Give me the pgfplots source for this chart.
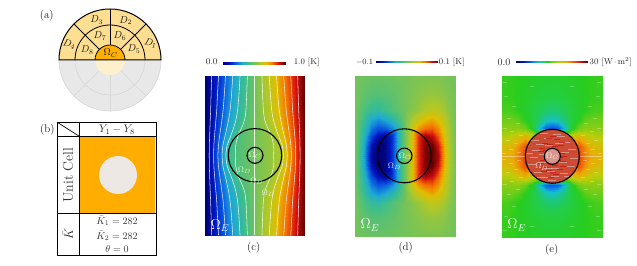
\documentclass[border=0pt]{standalone}
\usepackage{pgfplots}
\usepackage{pgfplotstable}
\pgfplotsset{compat=1.18,
 panel/.style={at={(0,0)},anchor=south west,scale only axis,width=637pt,height=265pt,
   xmin=0,xmax=637,ymin=0,ymax=265,hide axis},
 cmainmap/.style={colormap={cmain}{rgb255(0pt)=(0,0,110);rgb255(10pt)=(0,20,190);rgb255(20pt)=(10,90,225);rgb255(30pt)=(30,170,210);rgb255(40pt)=(60,190,140);rgb255(50pt)=(115,195,90);rgb255(60pt)=(175,200,40);rgb255(70pt)=(225,190,0);rgb255(80pt)=(245,110,0);rgb255(90pt)=(210,15,15);rgb255(100pt)=(100,0,0)}},
 cemap/.style={colormap={ce}{rgb255(0pt)=(0,0,110);rgb255(10pt)=(0,20,190);rgb255(20pt)=(10,100,230);rgb255(30pt)=(20,190,210);rgb255(40pt)=(35,205,70);rgb255(45pt)=(40,205,30);rgb255(50pt)=(110,205,25);rgb255(60pt)=(190,205,10);rgb255(70pt)=(235,170,5);rgb255(80pt)=(240,100,10);rgb255(90pt)=(210,20,20);rgb255(100pt)=(100,0,0)}}
}
% one quadrant of each field (offset from the centre of the panel)
\pgfplotstableread{
dx dy c d e
0 0 .5 0 24
6 0 .522 .03 24
13 0 .548 .072 24
20 0 .575 .095 24
26.7 0 .6 .1 25.5
33 0 .727 .088 22.8
39 0 .824 .048 21
44 0 .906 .022 20.6
49.65 0 1 0 20.6
0 10 .5 0 24
6 10 .522 .03 24
13 10 .548 .072 24
20 10 .575 .095 24
26.7 10 .63 .1 24.6
33 10 .738 .081 22
39 10 .829 .045 20
44 10 .908 .021 19.5
49.65 10 1 0 19.5
0 20 .5 0 18
6 20 .522 .03 18
13 20 .55 .072 18
20 20 .595 .09 18.6
26.7 20 .677 .084 20
33 20 .759 .064 19
39 20 .841 .038 18
44 20 .914 .018 17.5
49.65 20 1 0 17.5
0 28 .5 0 5.4
6 28 .529 .026 6
13 28 .571 .048 9
20 28 .633 .059 12.9
26.7 28 .702 .062 15
33 28 .776 .051 16
39 28 .851 .031 16
44 28 .919 .016 16
49.65 28 1 0 16
0 36 .5 0 9.3
6 36 .541 .016 9.8
13 36 .594 .031 11
20 36 .654 .041 12.3
26.7 36 .721 .047 13.6
33 36 .789 .04 14.6
39 36 .861 .026 15
44 36 .924 .013 15
49.65 36 1 0 15
0 46 .5 0 11.1
6 46 .548 .005 11.3
13 46 .607 .012 11.7
20 46 .67 .02 12.3
26.7 46 .736 .025 12.9
33 46 .802 .024 13.5
39 46 .87 .016 14
44 46 .928 .008 14.2
49.65 46 1 0 14.2
0 60 .5 0 12.2
6 60 .553 .003 12.3
13 60 .617 .007 12.5
20 60 .682 .01 12.8
26.7 60 .748 .012 13.1
33 60 .812 .011 13.4
39 60 .877 .008 13.7
44 60 .933 .004 13.8
49.65 60 1 0 13.8
0 79.65 .5 0 12.9
6 79.65 .558 .001 12.9
13 79.65 .627 .002 13.1
20 79.65 .695 .003 13.2
26.7 79.65 .762 .003 13.4
33 79.65 .825 .003 13.5
39 79.65 .887 .002 13.7
44 79.65 .939 .001 13.8
49.65 79.65 1 0 13.8
}\tabq
\pgfplotstableread{
dy k8 k9 k10 k11 k12 k13
0 19 28.8 32.6 36.8 41 45.4
10 19 27.6 31.8 36.2 40.8 45.3
20 16.5 23.8 29.5 35 40.1 45
28 13 21 27.7 33.8 39.4 44.7
36 10 18.7 26 32.7 38.7 44.4
46 8.7 17 24.5 31.5 37.9 44
60 8 15.8 23.2 30.4 37.2 43.6
79.65 7.3 14.6 21.9 29.1 36.1 43
}\iso
\pgfplotstableread{
x y
-20 -8
-14 -16
-6 -21
3 -20
12 -17
19 -10
22 -2
-23 3
-16 6
-18 -1
-10 -6
-9 2
-12 12
-4 18
5 22
14 14
20 7
13 4
11 -6
3 -12
-4 -12
-17 16
7 13
-3 11
16 -20
-11 -21
0 -24
-1 -15
9 20
-8 23
}\dashin
\pgfplotstableread{
x y
33 4
41 7
48 3
36 13
44 16
31 21
40 25
47 28
34 33
43 38
38 50
46 60
47 74
20 70
}\dashout
\newcommand\field[5]{%
 \addplot[surf,shader=interp,mesh/cols=9,point meta=explicit] table[x expr={#1+#3*\thisrow{dx}},y expr={#2+#3*\thisrow{dy}},meta expr={#4}]{\tabq};
 \addplot[surf,shader=interp,mesh/cols=9,point meta=explicit] table[x expr={#1+#3*\thisrow{dx}},y expr={#2-#3*\thisrow{dy}},meta expr={#4}]{\tabq};
 \addplot[surf,shader=interp,mesh/cols=9,point meta=explicit] table[x expr={#1-#3*\thisrow{dx}},y expr={#2+#3*\thisrow{dy}},meta expr={#5}]{\tabq};
 \addplot[surf,shader=interp,mesh/cols=9,point meta=explicit] table[x expr={#1-#3*\thisrow{dx}},y expr={#2-#3*\thisrow{dy}},meta expr={#5}]{\tabq};
}
\begin{document}
\begin{tikzpicture}[x=1pt,y=1pt]
\useasboundingbox (0,0) rectangle (637,265);
% ---- panel (c)
\begin{axis}[panel,cmainmap,point meta min=0,point meta max=1]
\field{254.65}{109.35}{1}{\thisrow{c}}{1-\thisrow{c}}
\pgfplotsinvokeforeach{k8,k9,k10,k11,k12,k13}{
 \addplot[white,line width=.55pt,opacity=.85,no markers,smooth] table[x expr={254.65+\thisrow{#1}},y expr={109.35+\thisrow{dy}}]{\iso};
 \addplot[white,line width=.55pt,opacity=.85,no markers,smooth] table[x expr={254.65+\thisrow{#1}},y expr={109.35-\thisrow{dy}}]{\iso};
 \addplot[white,line width=.55pt,opacity=.85,no markers,smooth] table[x expr={254.65-\thisrow{#1}},y expr={109.35+\thisrow{dy}}]{\iso};
 \addplot[white,line width=.55pt,opacity=.85,no markers,smooth] table[x expr={254.65-\thisrow{#1}},y expr={109.35-\thisrow{dy}}]{\iso};
}
\addplot[white,line width=.55pt,opacity=.85,no markers] coordinates {(254.65,29.7)(254.65,189)};
\addplot[surf,shader=interp,mesh/cols=2,point meta=explicit] coordinates {(223.3,200.6)[0](285.3,200.6)[1]

(223.3,202.8)[0](285.3,202.8)[1]};
\end{axis}
% ---- panel (d)
\begin{axis}[panel,cmainmap,point meta min=-0.1,point meta max=0.1]
\field{404.8}{108.8}{1.012}{\thisrow{d}}{-\thisrow{d}}
\addplot[surf,shader=interp,mesh/cols=2,point meta=explicit] coordinates {(375.7,202.2)[-0.1](437.7,202.2)[0.1]

(375.7,204.4)[-0.1](437.7,204.4)[0.1]};
\end{axis}
% ---- panel (e)
\begin{axis}[panel,cemap,point meta min=0,point meta max=30]
\field{551.85}{108.5}{1.012}{\thisrow{e}}{\thisrow{e}}
\addplot[surf,shader=interp,mesh/cols=2,point meta=explicit] coordinates {(515.7,202.2)[0](587.3,202.2)[30]

(515.7,204.4)[0](587.3,204.4)[30]};
\end{axis}
\begin{axis}[panel]
\addplot[white,opacity=.4,line width=.4pt,no markers] coordinates {(501.7,108.5)(525,108.5)};
\addplot[white,opacity=.4,line width=.4pt,no markers] coordinates {(579,108.5)(602,108.5)};
\pgfplotsinvokeforeach{1,-1}{
 \addplot[only marks,mark=-,mark size=2pt,mark options={draw=white,line width=.3pt,opacity=.28}] table[x expr={551.85+#1*\thisrow{x}},y expr={108.5+\thisrow{y}}]{\dashout};
 \addplot[only marks,mark=-,mark size=2pt,mark options={draw=white,line width=.3pt,opacity=.28}] table[x expr={551.85+#1*\thisrow{x}},y expr={108.5-\thisrow{y}}]{\dashout};
}
\end{axis}
\fill[fill={rgb,255:red,205;green,75;blue,50}] (552.3,108.7) circle[radius=27];
\begin{axis}[panel]
\addplot[only marks,mark=-,mark size=4pt,mark options={draw={rgb,255:red,215;green,200;blue,195},line width=1.3pt,opacity=.6}] table[x expr={552.3+\thisrow{x}},y expr={108.7+\thisrow{y}}]{\dashin};
\addplot[only marks,mark=-,mark size=3pt,mark options={draw={rgb,255:red,190;green,25;blue,20},line width=.7pt,opacity=.8}] table[x expr={552.3-0.5*\thisrow{y}},y expr={108.7+0.9*\thisrow{x}}]{\dashin};
\end{axis}
\fill[fill={rgb,255:red,215;green,150;blue,140}] (552.3,108.7) circle[radius=8];
% circles
\foreach \cx/\cy/\R/\r in {255/109.7/26.7/8,404.3/109.2/27/7.7,552.3/108.7/27/8}{
 \draw[black,line width=1.1pt] (\cx,\cy) circle[radius=\R];
 \draw[black,line width=1.1pt] (\cx,\cy) circle[radius=\r];
}
% inner texts
\tikzset{wl/.style={white,inner sep=0pt,font=\fontsize{8.5}{9}\selectfont,opacity=.85},
 we/.style={white,inner sep=0pt,font=\fontsize{14}{16}\selectfont},
 lab/.style={inner sep=0pt,font=\fontsize{11}{12}\selectfont,text=black!90}}
\node[wl] at (255,109.5) {$\Omega_C$};
\node[wl] at (244.3,95) {$\Omega_D$};
\node[wl] at (256.7,84) {$\Omega_D$};
\node[wl] at (268.3,71.7) {$\Omega_D$};
\node[we] at (220,39.3) {$\Omega_E$};
\node[wl] at (405,109) {$\Omega_C$};
\node[wl] at (394.3,99) {$\Omega_D$};
\node[we] at (370,40) {$\Omega_E$};
\node[wl] at (552.3,108.7) {$\Omega_C$};
\node[wl] at (541.7,98.3) {$\Omega_D$};
\node[we] at (516.7,40) {$\Omega_E$};
\node[lab] at (253.7,17.7) {(c)};
\node[lab] at (405.7,17.7) {(d)};
\node[lab] at (551.7,15.7) {(e)};
% colorbar labels
\node[inner sep=0pt,font=\fontsize{9}{10}\selectfont,text=black!85] at (211.7,203) {0.0};
\node[inner sep=0pt,font=\fontsize{8.5}{10}\selectfont,text=black!85] at (306.7,203) {1.0 [K]};
\node[inner sep=0pt,font=\fontsize{8.5}{10}\selectfont,text=black!85] at (364.5,203) {$-0.1$};
\node[inner sep=0pt,font=\fontsize{8.5}{10}\selectfont,text=black!85] at (451.7,203) {0.1 [K]};
\node[inner sep=0pt,font=\fontsize{10}{10}\selectfont,text=black!85] at (504,203) {0.0};
\node[inner sep=0pt,font=\fontsize{8.5}{10}\selectfont,text=black!85,anchor=west] at (589.5,203) {30 [W$\,\cdot\,$m$^2$]};
% ---- panel (a)
\begin{scope}[shift={(110,205)}]
 \fill[fill={rgb,255:red,232;green,232;blue,232}] (-51,0) arc[start angle=180,end angle=360,radius=51] -- cycle;
 \draw[draw={rgb,255:red,216;green,216;blue,216},line width=.7pt] (-51,0) arc[start angle=180,end angle=360,radius=51];
 \draw[draw={rgb,255:red,216;green,216;blue,216},line width=.7pt] (-35,0) arc[start angle=180,end angle=360,radius=35];
 \foreach \a in {225,270,315}{\draw[draw={rgb,255:red,216;green,216;blue,216},line width=.7pt] (\a:15) -- (\a:51);}
 \fill[fill={rgb,255:red,255;green,240;blue,205}] (-15,0) arc[start angle=180,end angle=360,radius=15] -- cycle;
 \fill[fill={rgb,255:red,254;green,223;blue,146}] (-51,0) arc[start angle=180,end angle=0,radius=51] -- cycle;
 \fill[fill={rgb,255:red,255;green,176;blue,0}] (-15,0) arc[start angle=180,end angle=0,radius=15] -- cycle;
 \draw[black,line width=.8pt] (-35,0) arc[start angle=180,end angle=0,radius=35];
 \draw[black,line width=.8pt] (-15,0) arc[start angle=180,end angle=0,radius=15];
 \foreach \a in {45,90,135}{\draw[black,line width=.8pt] (\a:15) -- (\a:51);}
 \draw[black,line width=1pt] (-51,0) arc[start angle=180,end angle=0,radius=51] -- cycle;
\end{scope}
\tikzset{dl/.style={inner sep=0pt,font=\fontsize{10}{11}\selectfont,text=black!90}}
\node[dl,rotate=-15] at (150.7,221.7) {$D_1$};
\node[dl] at (125.7,244.3) {$D_2$};
\node[dl] at (96.7,245) {$D_3$};
\node[dl,rotate=-15] at (69.3,220.7) {$D_4$};
\node[dl] at (134,216) {$D_5$};
\node[dl] at (120,229) {$D_6$};
\node[dl] at (100,229) {$D_7$};
\node[dl] at (87.3,215) {$D_8$};
\node[dl] at (110.7,211.7) {$\Omega_C$};
\node[lab] at (46.7,249) {(a)};
% ---- panel (b)
\fill[fill={rgb,255:red,255;green,173;blue,0}] (80,52) rectangle (155.3,127.7);
\fill[fill={rgb,255:red,237;green,232;blue,228}] (118,90) circle[radius=19];
\draw[black,line width=.7pt] (57.3,10) rectangle (156.7,142.7);
\draw[black,line width=.7pt] (57.3,128.7) -- (156.7,128.7);
\draw[black,line width=.7pt] (57.3,51.3) -- (156.7,51.3);
\draw[black,line width=.7pt] (79.3,10) -- (79.3,142.7);
\draw[black,line width=.7pt] (57.3,142.7) -- (79.3,128.7);
\tikzset{tl/.style={inner sep=0pt,font=\fontsize{10}{11}\selectfont,text=black!80}}
\node[inner sep=0pt,font=\fontsize{11}{12}\selectfont,text=black!80] at (117,135.5) {$Y_1-Y_8$};
\node[inner sep=0pt,font=\fontsize{14}{15}\selectfont,text=black!80,rotate=90] at (68,90) {Unit Cell};
\node[inner sep=0pt,font=\fontsize{13}{14}\selectfont,text=black!90,rotate=90] at (68,31) {$\bar K$};
\node[tl] at (117,44) {$\bar K_1=282$};
\node[tl] at (117,29) {$\bar K_2=282$};
\node[tl] at (117,15.5) {$\theta=0$};
\node[lab] at (47.3,135) {(b)};
\end{tikzpicture}
\end{document}
